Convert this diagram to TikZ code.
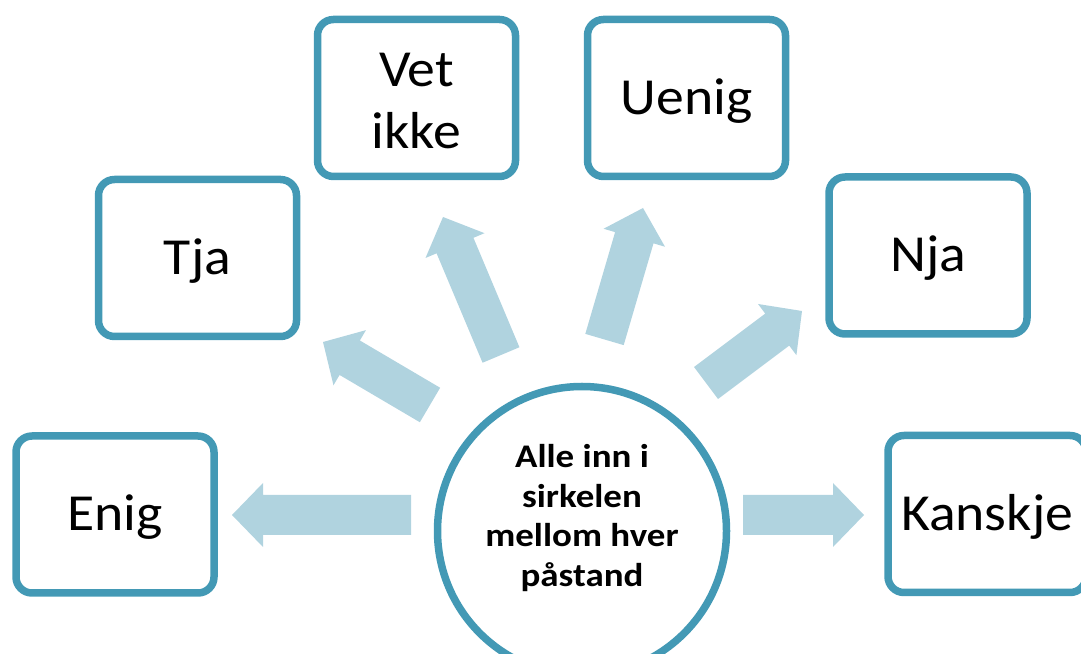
\documentclass[tikz,border=0pt]{standalone}
\usepackage{fontspec}
\setmainfont{Carlito}
\newfontfamily\boxfont[FakeStretch=1.07]{Carlito}
\newfontfamily\circfont[FakeStretch=1.12]{Carlito}
\usetikzlibrary{calc}
\definecolor{bord}{RGB}{67,153,181}
\definecolor{arrcol}{RGB}{176,211,223}
\newcommand\lowr[1]{\raisebox{-3pt}[\height][\depth]{#1}}
\tikzset{
  box/.style={draw=bord, line width=7.5pt, rounded corners=16pt, fill=white,
    minimum width=198pt, minimum height=157pt, inner sep=0pt, align=center,
    font=\boxfont\fontsize{52}{62}\selectfont},
  circ/.style={circle, draw=bord, line width=7.5pt, fill=white, minimum size=289pt, inner sep=0pt},
  ctext/.style={align=center, inner sep=0pt, font=\circfont\bfseries\fontsize{33}{39.7}\selectfont},
  arrfill/.style={fill=arrcol}
}
\newcommand\blockarrow[2]{%
  \coordinate (hb) at ($(#2)!31pt!(#1)$);
  \fill[arrfill] ($(#1)!20pt!90:(#2)$) -- ($(hb)!20pt!-90:(#1)$) -- ($(hb)!32pt!-90:(#1)$)
    -- (#2) -- ($(hb)!32pt!90:(#1)$) -- ($(hb)!20pt!90:(#1)$) -- ($(#1)!20pt!-90:(#2)$) -- cycle;}
\begin{document}
\begin{tikzpicture}[x=1pt,y=1pt]
\useasboundingbox (0,0) rectangle (1081,653);
\clip (0,0) rectangle (1081,653);
% arrows
\coordinate (t1) at (411,138);   \coordinate (p1) at (232,138);
\coordinate (t2) at (430,248);   \coordinate (p2) at (323,311);
\coordinate (t3) at (501,298);   \coordinate (p3) at (443,436);
\coordinate (t4) at (604.5,313.5); \coordinate (p4) at (643,445);
\coordinate (t5) at (706,270);   \coordinate (p5) at (802,342);
\coordinate (t6) at (743,138);   \coordinate (p6) at (864,138);
\blockarrow{t1}{p1}
\blockarrow{t2}{p2}
\blockarrow{t3}{p3}
\blockarrow{t4}{p4}
\blockarrow{t5}{p5}
\blockarrow{t6}{p6}
% boxes
\node[box] (enig) at (115,138.5) {\lowr{Enig}};
\node[box] (tja) at (197.5,395) {\lowr{Tja}};
\node[box] (vet) at (416.5,555) {\lowr{Vet}\\\lowr{ikke}};
\node[box] (uenig) at (686.5,555) {\lowr{Uenig}};
\node[box] (nja) at (928,397.5) {\lowr{Nja}};
\node[box] (kanskje) at (987,139) {\lowr{Kanskje}};
% circle
\node[circ] (c) at (582,122) {};
\node[ctext] (ct) at (582,135) {Alle inn i\\sirkelen\\mellom hver\\påstand};
\end{tikzpicture}
\end{document}
